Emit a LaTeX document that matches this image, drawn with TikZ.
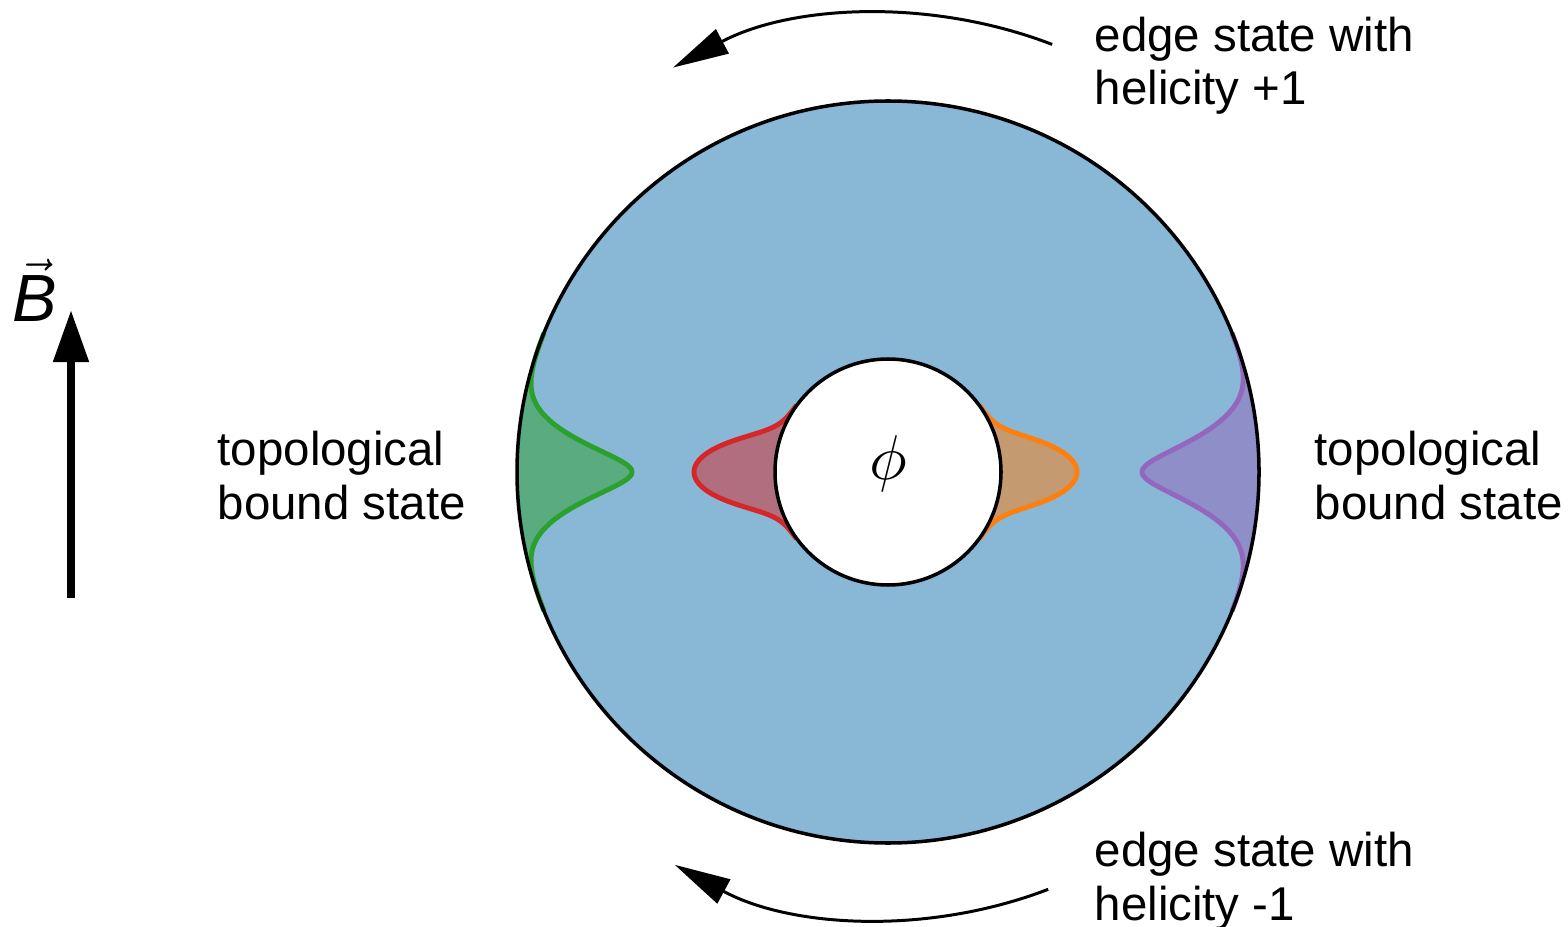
\documentclass[tikz,border=0pt]{standalone}
\usepackage{amsmath}
\usepackage{fontspec}
\setmainfont{Liberation Sans}
\usetikzlibrary{arrows.meta}

\definecolor{diskblue}{RGB}{137,184,214}
\definecolor{tabgreen}{RGB}{44,160,44}
\definecolor{tabred}{RGB}{214,39,40}
\definecolor{taborange}{RGB}{255,127,14}
\definecolor{tabpurple}{RGB}{148,103,189}

\begin{document}
\begin{tikzpicture}[
  lbl/.style={font=\fontsize{13.5}{15.1}\selectfont, align=left, inner sep=0pt, anchor=base west},
  rim/.style={draw=black, line width=1pt},
  helix/.style={line width=0.85pt, -{Triangle[length=5.6mm,width=2.7mm]}},
  peakfill/.style={fill=#1, fill opacity=0.5},
  peakline/.style={draw=#1, line width=1.4pt}
]
\useasboundingbox (0,0) rectangle (15.68,-9.27);

\begin{scope}[shift={(8.88,-4.72)}]
  \coordinate (ctr) at (0,0);
  \fill[diskblue] (ctr) circle[radius=3.71];
  % bound states: angle/radius/height/width/colour/range
  \foreach \ang/\rad/\amp/\sig/\col/\w in {180/3.71/-1.15/5.2/tabgreen/22,
      0/3.71/-1.17/5.6/tabpurple/22, 180/1.13/0.81/10.5/tabred/36,
      0/1.13/0.76/10.5/taborange/36}
  {
    \fill[peakfill=\col] plot[domain=-\w:\w, samples=81, smooth]
      ({\ang+\x}:{\rad+(\amp)*exp(-0.5*(\x/\sig)*(\x/\sig))})
      arc[start angle=\ang+\w, end angle=\ang-\w, radius=\rad];
    \draw[peakline=\col] plot[domain=-\w:\w, samples=81, smooth]
      ({\ang+\x}:{\rad+(\amp)*exp(-0.5*(\x/\sig)*(\x/\sig))});
  }
  \draw[rim] (ctr) circle[radius=3.71];
  \filldraw[rim, fill=white] (ctr) circle[radius=1.13];
  \node[scale=1.8] (flux) at (0,0.08) {$\phi$};

  % edge states
  \coordinate (topstart) at (69:4.58);
  \coordinate (botstart) at (-69:4.47);
  \draw[helix] (topstart) arc[start angle=69, end angle=118, radius=4.58];
  \draw[helix] (botstart) arc[start angle=-69, end angle=-118.5, radius=4.47];
\end{scope}

\node[lbl] (plus) at (10.94,-1.05) {edge state with\\helicity +1};
\node[lbl] (minus) at (10.94,-9.20) {edge state with\\helicity -1};
\node[lbl] (leftbound) at (2.17,-5.19) {topological\\bound state};
\node[lbl] (rightbound) at (13.14,-5.19) {topological\\bound state};

% magnetic field
\coordinate (bfoot) at (0.71,-5.98);
\coordinate (btip) at (0.71,-3.10);
\draw[line width=2.3pt, -{Triangle[length=5.2mm,width=3.4mm]}] (bfoot) -- (btip);
\node[anchor=base, inner sep=0pt] (bfield) at (0.35,-3.22)
  {\fontsize{19}{21}\selectfont$\vec{\textit{B}}$};
\end{tikzpicture}
\end{document}
